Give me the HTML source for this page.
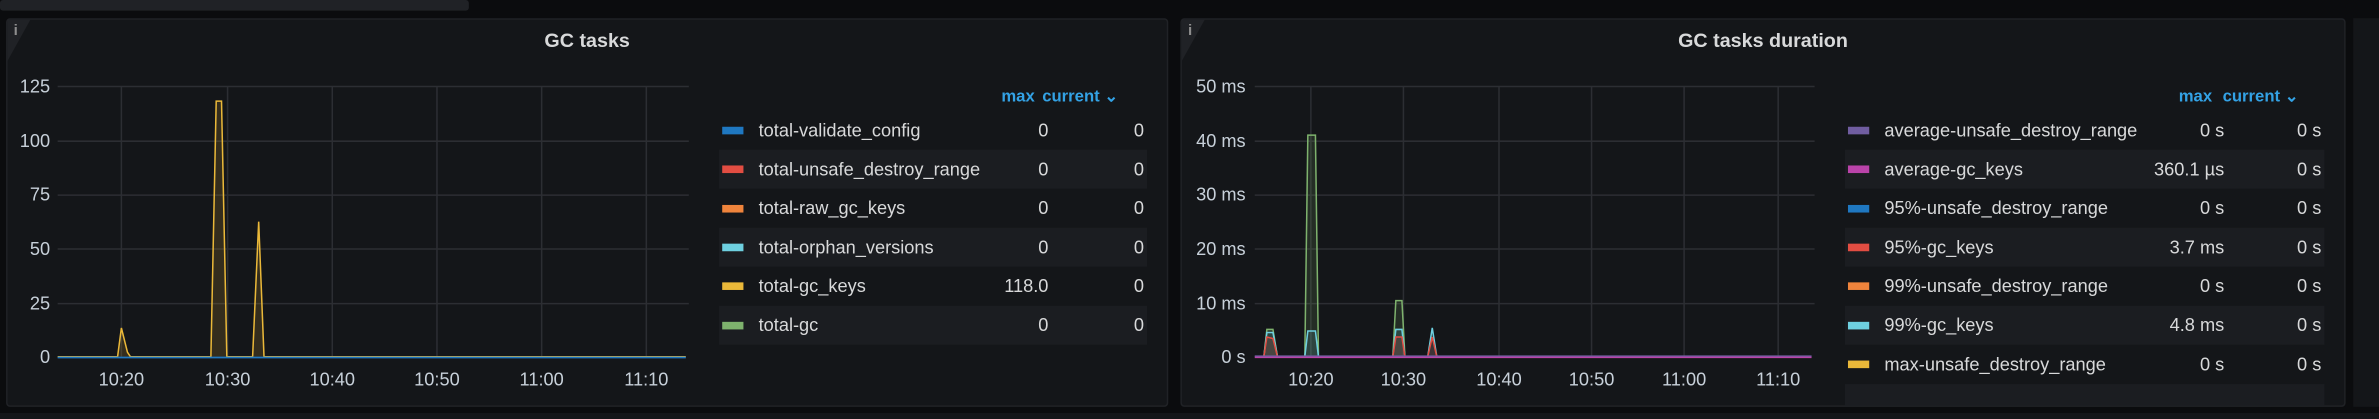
<!DOCTYPE html>
<html><head><meta charset="utf-8"><style>
html,body{margin:0;padding:0;background:#0b0c0e;overflow:hidden}
svg{display:block}
text{font-family:"Liberation Sans",sans-serif}
</style></head><body>
<svg width="2379" height="419" viewBox="0 0 1568 276" preserveAspectRatio="none" xmlns="http://www.w3.org/2000/svg">
<rect x="0" y="0" width="1568" height="276" fill="#0b0c0e"/>
<rect x="0" y="0" width="309" height="7" rx="2" fill="#202226"/>
<!-- panels -->
<rect x="4.5" y="12.5" width="765" height="255" rx="2" fill="#141619" stroke="#202226"/>
<rect x="778.5" y="12.5" width="767" height="255" rx="2" fill="#141619" stroke="#202226"/>
<rect x="1551" y="12" width="17" height="256" fill="#141619"/>
<polygon points="5,13 20,13 5,40" fill="#202226"/>
<polygon points="779,13 794,13 779,40" fill="#202226"/>
<text x="9" y="23" font-size="10" fill="#8e8e8e" font-weight="bold">i</text>
<text x="783" y="23" font-size="10" fill="#8e8e8e" font-weight="bold">i</text>
<text x="387" y="31" font-size="13" fill="#d8d9da" text-anchor="middle" font-weight="bold">GC tasks</text>
<text x="1162" y="31" font-size="13" fill="#d8d9da" text-anchor="middle" font-weight="bold">GC tasks duration</text>

<!-- left grid -->
<g stroke="#2c2e33" stroke-width="1">
<line x1="38" x2="454" y1="57" y2="57"/><line x1="38" x2="454" y1="93" y2="93"/><line x1="38" x2="454" y1="128.5" y2="128.5"/><line x1="38" x2="454" y1="164" y2="164"/><line x1="38" x2="454" y1="200" y2="200"/>
<line x1="80" x2="80" y1="57" y2="235"/><line x1="150" x2="150" y1="57" y2="235"/><line x1="219" x2="219" y1="57" y2="235"/><line x1="288" x2="288" y1="57" y2="235"/><line x1="357" x2="357" y1="57" y2="235"/><line x1="426" x2="426" y1="57" y2="235"/>
</g>
<g font-size="12" fill="#c7d0d9" text-anchor="end">
<text x="33" y="61">125</text><text x="33" y="97">100</text><text x="33" y="132">75</text><text x="33" y="168">50</text><text x="33" y="204">25</text><text x="33" y="239">0</text>
</g>
<g font-size="12" fill="#c7d0d9" text-anchor="middle">
<text x="80" y="254">10:20</text><text x="150" y="254">10:30</text><text x="219" y="254">10:40</text><text x="288" y="254">10:50</text><text x="357" y="254">11:00</text><text x="426" y="254">11:10</text>
</g>
<polygon points="77.5,235 80,216 84,232 86,235" fill="#eab839" fill-opacity="0.15"/>
<polygon points="139,235 142.5,66.6 146,66.6 149.5,235" fill="#eab839" fill-opacity="0.15"/>
<polygon points="166.5,235 170.5,146 174,235" fill="#eab839" fill-opacity="0.15"/>
<polyline points="38,235 77.5,235 80,216 84,232 86,235 139,235 142.5,66.6 146,66.6 149.5,235 166.5,235 170.5,146 174,235 452,235" fill="none" stroke="#eab839" stroke-width="1"/>
<line x1="38" x2="452" y1="235.5" y2="235.5" stroke="#1f78c1" stroke-width="1.2"/>

<!-- left legend -->
<text x="671" y="67" font-size="11" fill="#33a2e5" font-weight="bold" text-anchor="middle">max</text>
<text x="712" y="67" font-size="11" fill="#33a2e5" font-weight="bold" text-anchor="middle">current ⌄</text>
<rect x="474" y="98.6" width="282" height="25.7" fill="#1b1d21"/>
<rect x="474" y="150" width="282" height="25.7" fill="#1b1d21"/>
<rect x="474" y="201.4" width="282" height="25.7" fill="#1b1d21"/>
<g font-size="12" fill="#d8d9da">
<rect x="476" y="83.5" width="14" height="5" fill="#1f78c1"/><text x="500" y="90">total-validate_config</text><text x="691" y="90" text-anchor="end">0</text><text x="754" y="90" text-anchor="end">0</text>
<rect x="476" y="109" width="14" height="5" fill="#e24d42"/><text x="500" y="115.5">total-unsafe_destroy_range</text><text x="691" y="115.5" text-anchor="end">0</text><text x="754" y="115.5" text-anchor="end">0</text>
<rect x="476" y="135" width="14" height="5" fill="#ef843c"/><text x="500" y="141">total-raw_gc_keys</text><text x="691" y="141" text-anchor="end">0</text><text x="754" y="141" text-anchor="end">0</text>
<rect x="476" y="160.5" width="14" height="5" fill="#6ed0e0"/><text x="500" y="167">total-orphan_versions</text><text x="691" y="167" text-anchor="end">0</text><text x="754" y="167" text-anchor="end">0</text>
<rect x="476" y="186" width="14" height="5" fill="#eab839"/><text x="500" y="192.5">total-gc_keys</text><text x="691" y="192.5" text-anchor="end">118.0</text><text x="754" y="192.5" text-anchor="end">0</text>
<rect x="476" y="212" width="14" height="5" fill="#7eb26d"/><text x="500" y="218">total-gc</text><text x="691" y="218" text-anchor="end">0</text><text x="754" y="218" text-anchor="end">0</text>
</g>

<!-- right grid -->
<g stroke="#2c2e33" stroke-width="1">
<line x1="827" x2="1196" y1="57" y2="57"/><line x1="827" x2="1196" y1="93" y2="93"/><line x1="827" x2="1196" y1="128.5" y2="128.5"/><line x1="827" x2="1196" y1="164" y2="164"/><line x1="827" x2="1196" y1="200" y2="200"/>
<line x1="864" x2="864" y1="57" y2="235"/><line x1="925" x2="925" y1="57" y2="235"/><line x1="988" x2="988" y1="57" y2="235"/><line x1="1049" x2="1049" y1="57" y2="235"/><line x1="1110" x2="1110" y1="57" y2="235"/><line x1="1172" x2="1172" y1="57" y2="235"/>
</g>
<g font-size="12" fill="#c7d0d9" text-anchor="end">
<text x="821" y="61">50 ms</text><text x="821" y="97">40 ms</text><text x="821" y="132">30 ms</text><text x="821" y="168">20 ms</text><text x="821" y="204">10 ms</text><text x="821" y="239">0 s</text>
</g>
<g font-size="12" fill="#c7d0d9" text-anchor="middle">
<text x="864" y="254">10:20</text><text x="925" y="254">10:30</text><text x="988" y="254">10:40</text><text x="1049" y="254">10:50</text><text x="1110" y="254">11:00</text><text x="1172" y="254">11:10</text>
</g>
<!-- spikes -->
<g fill-opacity="0.15" stroke-width="1" fill="none">
<polyline points="833,235 835,217 839,217 842,235" stroke="#7eb26d" fill="#7eb26d"/>
<polyline points="833,235 835,219 839,219 842,235" stroke="#6ed0e0" fill="#6ed0e0"/>
<polyline points="833,235 835,222 839,223 842,235" stroke="#e24d42" fill="#e24d42"/>
<polyline points="860,235 862,89 867,89 869,235" stroke="#7eb26d" fill="#7eb26d"/>
<polyline points="860,235 862,218 867,218 869,235" stroke="#6ed0e0" fill="#6ed0e0"/>
<polyline points="918,235 920,198 924,198 926,235" stroke="#7eb26d" fill="#7eb26d"/>
<polyline points="918,235 920,217 924,217 926,235" stroke="#6ed0e0" fill="#6ed0e0"/>
<polyline points="918,235 920,222 924,222 926,235" stroke="#e24d42" fill="#e24d42"/>
<polyline points="941,235 944,216 947,235" stroke="#6ed0e0" fill="#6ed0e0"/>
<polyline points="941,235 944,222 947,235" stroke="#e24d42" fill="#e24d42"/>
</g>
<line x1="827" x2="1194" y1="235.3" y2="235.3" stroke="#ba43a9" stroke-width="1.2"/>
<line x1="827" x2="1194" y1="234.5" y2="234.5" stroke="#705da0" stroke-width="0.8"/>

<!-- right legend -->
<text x="1447" y="67" font-size="11" fill="#33a2e5" font-weight="bold" text-anchor="middle">max</text>
<text x="1490" y="67" font-size="11" fill="#33a2e5" font-weight="bold" text-anchor="middle">current ⌄</text>
<rect x="1216" y="98.6" width="316" height="25.7" fill="#1b1d21"/>
<rect x="1216" y="150" width="316" height="25.7" fill="#1b1d21"/>
<rect x="1216" y="201.4" width="316" height="25.7" fill="#1b1d21"/>
<rect x="1216" y="253" width="316" height="14" fill="#1b1d21"/>
<g font-size="12" fill="#d8d9da">
<rect x="1218" y="83.5" width="14" height="5" fill="#705da0"/><text x="1242" y="90">average-unsafe_destroy_range</text><text x="1466" y="90" text-anchor="end">0 s</text><text x="1530" y="90" text-anchor="end">0 s</text>
<rect x="1218" y="109" width="14" height="5" fill="#ba43a9"/><text x="1242" y="115.5">average-gc_keys</text><text x="1466" y="115.5" text-anchor="end">360.1 µs</text><text x="1530" y="115.5" text-anchor="end">0 s</text>
<rect x="1218" y="135" width="14" height="5" fill="#1f78c1"/><text x="1242" y="141">95%-unsafe_destroy_range</text><text x="1466" y="141" text-anchor="end">0 s</text><text x="1530" y="141" text-anchor="end">0 s</text>
<rect x="1218" y="160.5" width="14" height="5" fill="#e24d42"/><text x="1242" y="167">95%-gc_keys</text><text x="1466" y="167" text-anchor="end">3.7 ms</text><text x="1530" y="167" text-anchor="end">0 s</text>
<rect x="1218" y="186" width="14" height="5" fill="#ef843c"/><text x="1242" y="192.5">99%-unsafe_destroy_range</text><text x="1466" y="192.5" text-anchor="end">0 s</text><text x="1530" y="192.5" text-anchor="end">0 s</text>
<rect x="1218" y="212" width="14" height="5" fill="#6ed0e0"/><text x="1242" y="218">99%-gc_keys</text><text x="1466" y="218" text-anchor="end">4.8 ms</text><text x="1530" y="218" text-anchor="end">0 s</text>
<rect x="1218" y="237.5" width="14" height="5" fill="#eab839"/><text x="1242" y="244">max-unsafe_destroy_range</text><text x="1466" y="244" text-anchor="end">0 s</text><text x="1530" y="244" text-anchor="end">0 s</text>
</g>
<rect x="0" y="272" width="1568" height="4" fill="#141619"/>
</svg>
</body></html>
